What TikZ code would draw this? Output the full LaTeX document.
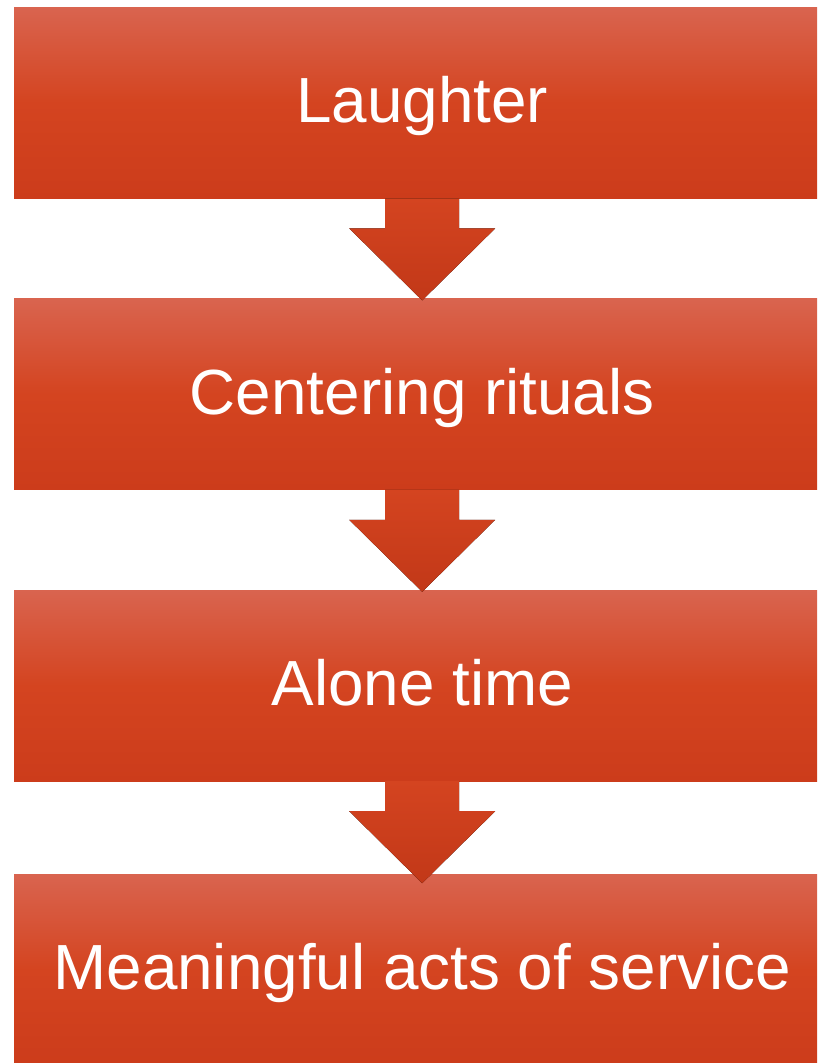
\documentclass[tikz,border=0pt]{standalone}
\usepackage{fontspec}
\setmainfont{Liberation Sans}
\usetikzlibrary{positioning}

\definecolor{boxtop}{RGB}{217,100,79}
\definecolor{boxmid}{RGB}{212,68,32}
\definecolor{boxbot}{RGB}{204,60,27}
\definecolor{arrtop}{RGB}{212,68,32}
\definecolor{arrbot}{RGB}{194,56,24}

\begin{document}
\begin{tikzpicture}[x=1pt, y=-1pt, font=\fontsize{63.8}{70}\selectfont,
    stage/.style={minimum width=816pt, minimum height=191pt, inner sep=0pt,
                  text=white, text height=46pt, text depth=6pt,
                  top color=boxtop, bottom color=boxbot, middle color=boxmid}]

  \clip (0,0) rectangle (817,1063);

  %--- Stages --------------------------------------------------------------
  \node[stage, anchor=north west] (laugh) at (14,7) {Laughter};
  \node[stage, below=100pt of laugh] (ritual) {Centering rituals};
  \node[stage, below=100pt of ritual] (alone) {Alone time};
  \node[stage, below=93pt of alone] (service) {Meaningful acts of service};

  %--- Block arrows between stages -----------------------------------------
  \foreach \from in {laugh, ritual, alone}
    \fill[top color=arrtop, bottom color=arrbot]
         (\from.south) ++(-37,0) -- ++(74,0) -- ++(0,30) -- ++(36,0)
         -- ++(-73,72) -- ++(-73,-72) -- ++(36,0) -- cycle;

\end{tikzpicture}
\end{document}
